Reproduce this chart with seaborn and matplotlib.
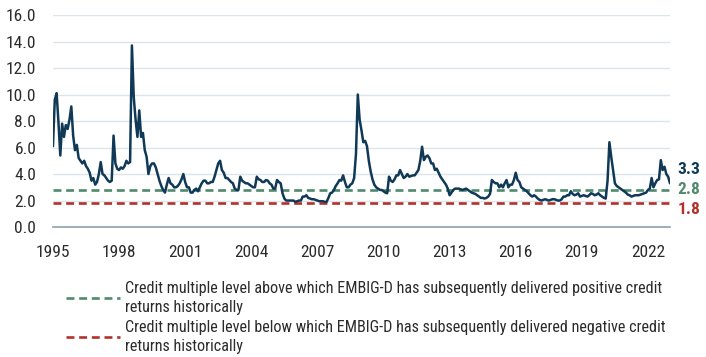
import matplotlib
import numpy as np
import pandas as pd

matplotlib.use("Agg")
import matplotlib.pyplot as plt
import seaborn as sns
from matplotlib import transforms
from matplotlib.lines import Line2D


# monthly credit multiple (Jan..Dec per year)
START_YEAR = 1995
MULTIPLE_BY_YEAR = [
    [6.1, 9.6, 10.1, 7.9, 5.4, 7.8, 6.8, 7.7, 7.4, 8.1, 9.1, 6.9],   # 1995
    [5.8, 6.2, 5.2, 5.0, 4.8, 5.0, 4.6, 4.4, 4.1, 3.5, 3.7, 3.2],    # 1996
    [3.4, 4.0, 4.9, 4.0, 3.9, 3.7, 3.5, 3.4, 3.5, 6.9, 4.8, 4.4],    # 1997
    [4.3, 4.5, 4.4, 4.6, 5.0, 4.8, 4.9, 13.7, 9.8, 8.1, 6.8, 8.8],   # 1998
    [6.8, 7.1, 5.8, 5.3, 4.0, 4.6, 4.8, 4.8, 4.5, 4.0, 3.5, 3.1],    # 1999
    [2.8, 2.6, 3.2, 3.7, 3.3, 3.2, 3.0, 3.0, 3.1, 3.3, 3.6, 4.0],    # 2000
    [3.4, 3.0, 3.0, 2.6, 2.6, 2.8, 2.9, 2.7, 3.0, 3.3, 3.5, 3.5],    # 2001
    [3.3, 3.3, 3.4, 3.4, 3.8, 4.3, 4.8, 5.0, 4.3, 4.1, 3.7, 3.7],    # 2002
    [3.55, 3.4, 3.3, 2.9, 2.8, 2.8, 3.8, 3.5, 3.4, 3.3, 3.3, 3.2],   # 2003
    [3.1, 3.0, 3.0, 3.8, 3.6, 3.55, 3.4, 3.4, 3.55, 3.5, 3.3, 3.2],  # 2004
    [2.9, 2.9, 3.55, 3.4, 3.3, 2.55, 2.15, 2.0, 2.0, 2.0, 2.0, 2.0], # 2005
    [1.9, 1.95, 2.0, 2.0, 2.3, 2.3, 2.4, 2.2, 2.15, 2.1, 2.1, 2.05], # 2006
    [2.0, 1.95, 1.95, 1.95, 1.9, 1.9, 2.2, 2.55, 2.6, 2.8, 3.1, 3.3],# 2007
    [3.55, 3.5, 3.9, 3.4, 3.0, 3.0, 3.2, 3.3, 3.7, 5.5, 10.0, 8.1],  # 2008
    [7.3, 6.4, 6.5, 6.1, 5.0, 4.2, 3.6, 3.2, 3.0, 2.9, 2.8, 2.8],    # 2009
    [2.7, 2.6, 2.55, 3.8, 3.5, 3.4, 3.6, 3.9, 3.9, 4.3, 4.0, 3.7],   # 2010
    [3.8, 4.0, 3.8, 3.85, 3.9, 3.9, 4.1, 4.3, 5.0, 6.06, 5.05, 5.3], # 2011
    [5.4, 5.2, 4.8, 4.8, 4.3, 4.4, 4.1, 3.8, 3.6, 3.4, 3.2, 2.9],    # 2012
    [2.4, 2.6, 2.8, 2.9, 2.9, 2.9, 2.85, 2.8, 2.85, 2.9, 2.8, 2.7],  # 2013
    [2.6, 2.55, 2.5, 2.4, 2.3, 2.2, 2.2, 2.15, 2.2, 2.3, 2.5, 3.55], # 2014
    [3.4, 3.3, 3.3, 3.0, 3.2, 3.0, 3.3, 3.55, 3.0, 3.2, 3.2, 3.55],  # 2015
    [4.1, 3.55, 3.4, 3.0, 2.9, 2.8, 2.7, 2.55, 2.4, 2.3, 2.4, 2.3],  # 2016
    [2.15, 2.05, 2.0, 2.05, 2.1, 2.05, 2.0, 2.05, 2.1, 2.1, 2.05, 2.0],  # 2017
    [2.0, 2.1, 2.3, 2.3, 2.4, 2.4, 2.7, 2.5, 2.4, 2.45, 2.55, 2.3],  # 2018
    [2.35, 2.4, 2.35, 2.3, 2.4, 2.55, 2.5, 2.4, 2.45, 2.55, 2.4, 2.3],   # 2019
    [2.2, 2.15, 3.5, 6.4, 5.3, 4.3, 3.3, 3.1, 3.0, 2.9, 2.8, 2.7],   # 2020
    [2.6, 2.45, 2.4, 2.3, 2.35, 2.4, 2.4, 2.4, 2.45, 2.5, 2.55, 2.6],    # 2021
    [2.8, 2.9, 3.7, 3.0, 3.3, 3.55, 3.6, 5.05, 4.3, 4.55, 4.0, 3.8], # 2022
    [3.3],                                                            # 2023 (last)
]

UPPER_LEVEL = 2.8
LOWER_LEVEL = 1.8
X_TICKS = [1995, 1998, 2001, 2004, 2007, 2010, 2013, 2016, 2019, 2022]
Y_TICKS = [0, 2, 4, 6, 8, 10, 12, 14, 16]
UPPER_LABEL = ("Credit multiple level above which EMBIG-D has subsequently delivered positive credit\n"
               "returns historically")
LOWER_LABEL = ("Credit multiple level below which EMBIG-D has subsequently delivered negative credit\n"
               "returns historically")

COLORS = {
    "navy": "#0f3956",
    "green": "#4f8a6d",
    "red": "#b3302d",
    "grid": "#dbe5ea",
    "axis": "#8da2ab",
    "text": "#2b2b2b",
}
FONTS = ["Roboto Condensed", "Liberation Sans", "DejaVu Sans"]


def build_frame() -> pd.DataFrame:
    rows = []
    for i, year_values in enumerate(MULTIPLE_BY_YEAR):
        for m, v in enumerate(year_values):
            rows.append({"date": START_YEAR + i + m / 12, "multiple": v})
    return pd.DataFrame(rows)


def main() -> None:
    sns.set_theme(style="white")
    plt.rcParams["font.family"] = FONTS

    df = build_frame()

    fig = plt.figure(figsize=(7.06, 3.57), dpi=100)
    ax = fig.add_axes([0.075, 0.364, 0.874, 0.594])

    for v in Y_TICKS[1:]:
        ax.axhline(v, color=COLORS["grid"], lw=1.0, zorder=0)

    dash = (3.0, 1.8)
    ax.axhline(UPPER_LEVEL, color=COLORS["green"], lw=1.9, dashes=dash, zorder=1)
    ax.axhline(LOWER_LEVEL, color=COLORS["red"], lw=1.9, dashes=dash, zorder=1)

    sns.lineplot(data=df, x="date", y="multiple", color=COLORS["navy"], lw=1.8, ax=ax, zorder=2)

    ax.set_xlim(1995, 2023)
    ax.set_ylim(0, 16)
    ax.set_xticks(X_TICKS)
    ax.set_xticklabels([str(t) for t in X_TICKS])
    ax.set_yticks(Y_TICKS)
    ax.set_yticklabels([f"{t:.1f}" for t in Y_TICKS])
    ax.tick_params(axis="both", length=0, labelsize=12.5, colors=COLORS["text"])
    ax.tick_params(axis="x", pad=13)
    ax.tick_params(axis="y", pad=12)
    ax.set_xlabel("")
    ax.set_ylabel("")
    for side in ["top", "right", "left"]:
        ax.spines[side].set_visible(False)
    ax.spines["bottom"].set_color(COLORS["axis"])
    ax.spines["bottom"].set_linewidth(1.2)

    # end labels on the right of the plot
    trans = transforms.blended_transform_factory(ax.transAxes, ax.transData)
    last_value = MULTIPLE_BY_YEAR[-1][-1]
    end_labels = [
        (last_value, COLORS["navy"], 14),
        (UPPER_LEVEL, COLORS["green"], 0),
        (LOWER_LEVEL, COLORS["red"], -6),
    ]
    for value, color, shift_px in end_labels:
        t = ax.text(1.012, value, f"{value:.1f}", ha="left", va="center",
                    fontsize=12.5, fontweight="bold", color=color)
        t.set_transform(trans + transforms.ScaledTranslation(0, shift_px / 100, fig.dpi_scale_trans))

    handles = [
        Line2D([0], [0], color=COLORS["green"], lw=1.9, dashes=dash),
        Line2D([0], [0], color=COLORS["red"], lw=1.9, dashes=dash),
    ]
    leg = fig.legend(
        handles,
        [UPPER_LABEL, LOWER_LABEL],
        loc="upper left",
        bbox_to_anchor=(0.093, 0.213),
        frameon=False,
        fontsize=11.6,
        handlelength=3.4,
        handletextpad=0.3,
        labelspacing=0.3,
        borderpad=0,
        borderaxespad=0,
        labelcolor=COLORS["text"],
    )
    for text in leg.get_texts():
        text.set_linespacing(1.35)

    fig.savefig("out.png", dpi=100)
    plt.close(fig)


if __name__ == "__main__":
    main()
